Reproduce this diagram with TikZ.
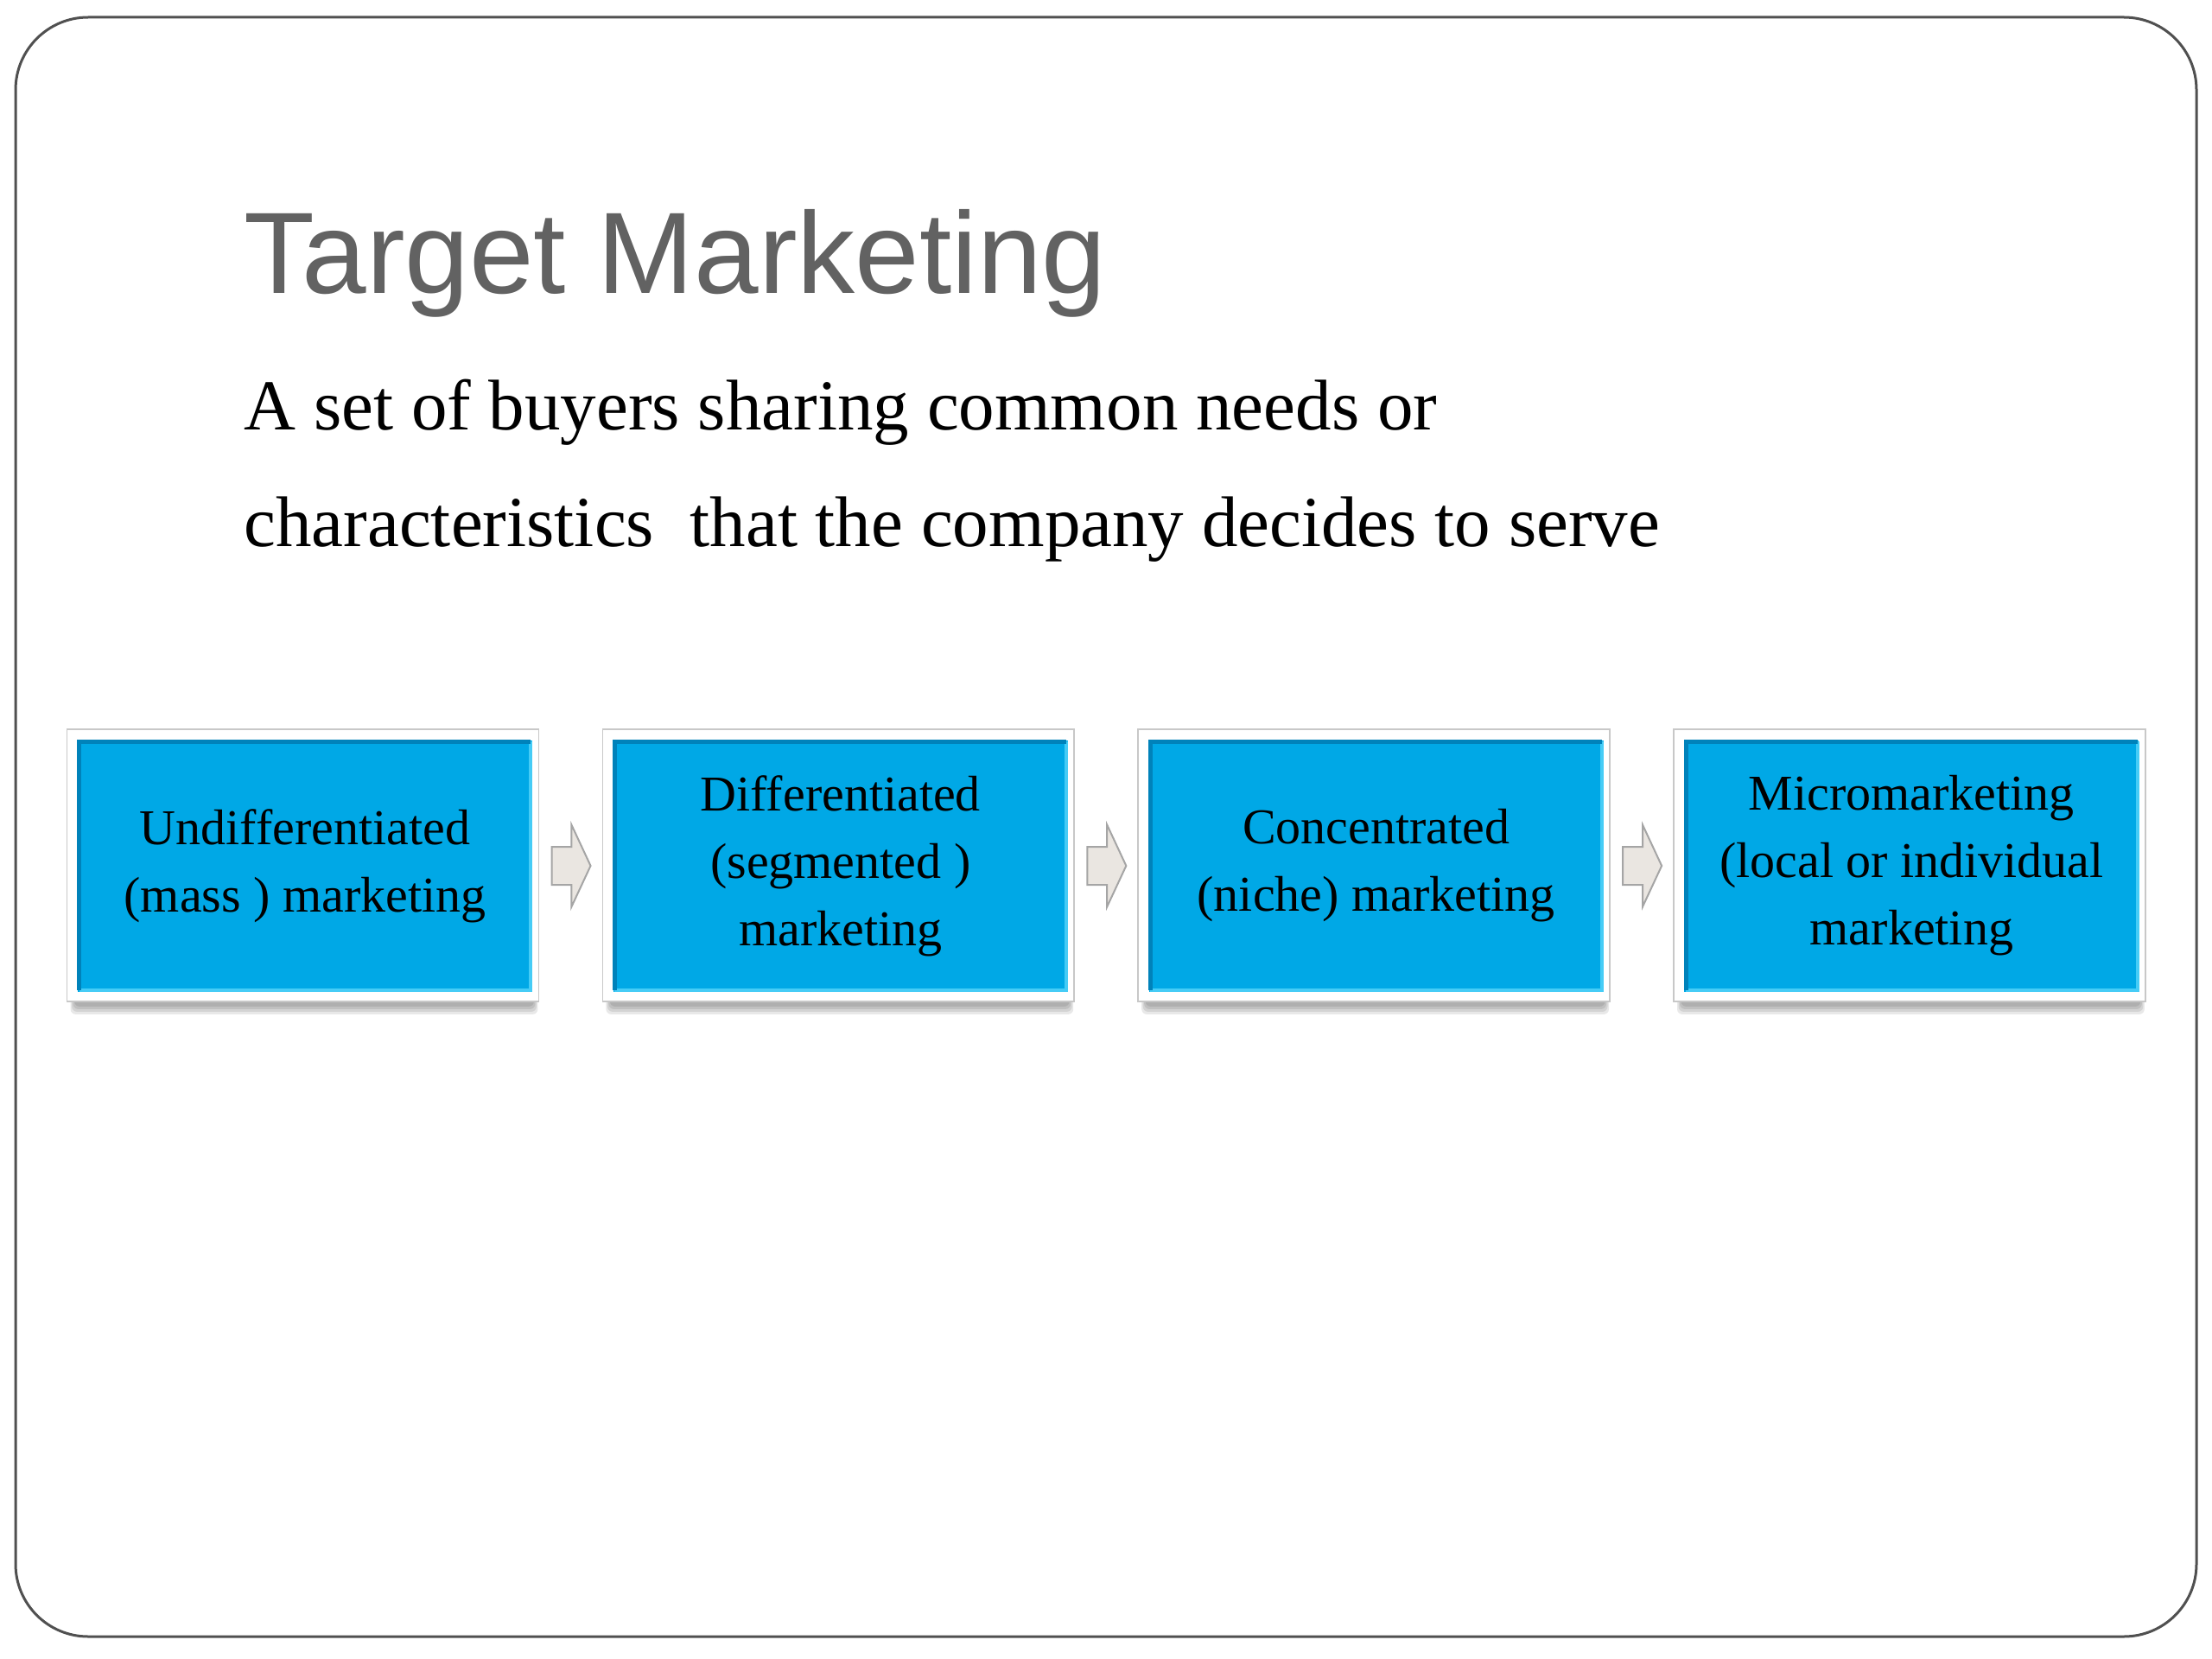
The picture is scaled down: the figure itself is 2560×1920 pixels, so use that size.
\documentclass[tikz,border=0pt]{standalone}
\usepackage{fontspec}
\setmainfont{Liberation Serif}
\newfontfamily\headfont{Liberation Sans}
\usetikzlibrary{positioning,shapes.arrows,backgrounds,calc}
\definecolor{stageblue}{RGB}{0,168,230}
\definecolor{stagedark}{RGB}{0,130,186}
\definecolor{stagelight}{RGB}{70,204,246}
\definecolor{framegray}{RGB}{200,200,200}
\definecolor{arrowfill}{RGB}{234,230,225}
\definecolor{arrowline}{RGB}{165,165,165}
\definecolor{titlegray}{RGB}{98,98,98}
\definecolor{slideline}{RGB}{80,80,80}

\begin{document}
\begin{tikzpicture}[x=0.5pt, y=-0.5pt,
  stage/.style={fill=stageblue, minimum width=263pt, minimum height=145.5pt, inner sep=0pt,
    align=center, font=\fontsize{29}{39}\selectfont},
  flow/.style={single arrow, draw=arrowline, fill=arrowfill, line width=1pt, inner xsep=0pt,
    inner ysep=10.5pt, minimum height=22.5pt, single arrow head extend=12.75pt,
    single arrow tip angle=130}]
\useasboundingbox (0,0) rectangle (2560,1920);
\draw[slideline, line width=1.5pt, rounded corners=42pt] (18,20) rectangle (2542,1894);
\node[font=\headfont\fontsize{67}{80}\selectfont, text=titlegray, anchor=base west, inner sep=0pt] (title) at (282,340) {Target Marketing};
\node[font=\fontsize{41.5}{67}\selectfont, anchor=base west, align=left, inner sep=0pt] (def) at (282,632)
  {A set of buyers sharing common needs or\\characteristics\ \ that the company decides to serve};
% the four strategies
\node[stage] (undiff) at (353,1002) {Undifferentiated\\(mass ) marketing};
\node[stage, right=46.5pt of undiff] (diff) {Differentiated\\(segmented )\\marketing};
\node[stage, right=46.5pt of diff] (conc) {Concentrated\\(niche) marketing};
\node[stage, right=46.5pt of conc] (micro) {Micromarketing\\(local or individual\\marketing};
\begin{scope}[on background layer]
\foreach \n in {undiff,diff,conc,micro} {
  \foreach \s in {0,3,6,9}
    \fill[black, opacity=0.09, rounded corners=3pt] ($(\n.north west)+(-8+\s/2,10)$) rectangle ($(\n.south east)+(6-\s/2,26-\s)$);
  \draw[framegray, fill=white, line width=0.75pt] ($(\n.north west)+(-12,-12)$) rectangle ($(\n.south east)+(7,11)$);
}
\end{scope}
\foreach \n in {undiff,diff,conc,micro} {
  \draw[stagelight, line width=2pt] ($(\n.south west)+(2,-2)$) -- ($(\n.south east)+(-2,-2)$) -- ($(\n.north east)+(-2,2)$);
  \draw[stagedark, line width=2.5pt] ($(\n.south west)+(2,-2)$) -- ($(\n.north west)+(2,2)$) -- ($(\n.north east)+(-2,2)$);
}
\foreach \a/\b/\m in {undiff/diff/f1, diff/conc/f2, conc/micro/f3}
  \node[flow, xshift=-3.5pt] (\m) at ($(\a.east)!0.5!(\b.west)$) {};
\end{tikzpicture}
\end{document}
